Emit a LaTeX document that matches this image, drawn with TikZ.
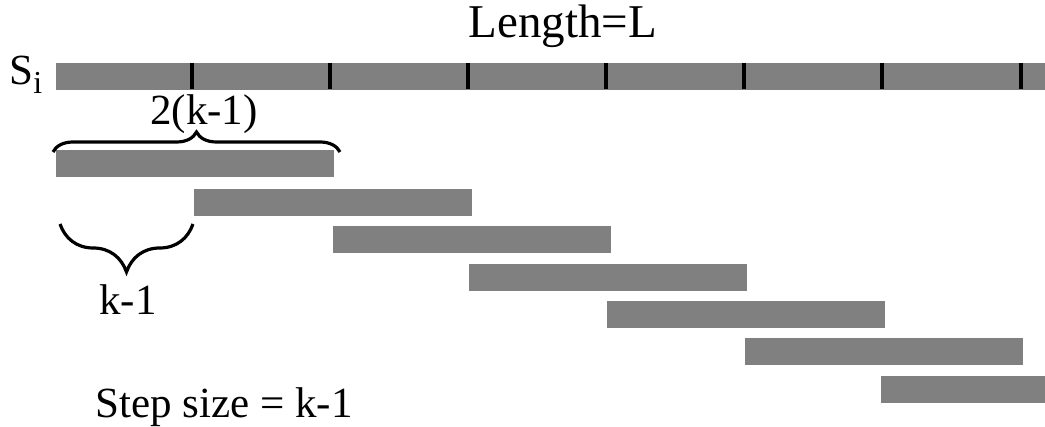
\documentclass[tikz,border=0pt]{standalone}
\usepackage{fontspec}
\setmainfont{Liberation Serif}
\usetikzlibrary{decorations.pathreplacing}
\definecolor{bargray}{RGB}{128,128,128}
\tikzset{
  barbox/.style={fill=bargray, draw=none},
  tickline/.style={line width=1.6pt, black},
  bracepath/.style={decorate, line width=1.6pt, black},
  lbl/.style={inner sep=0pt, anchor=base, font=\fontsize{21.5}{24}\selectfont}
}
\begin{document}
\begin{tikzpicture}[x=0.5pt, y=-0.5pt]
\useasboundingbox (0,0) rectangle (1045,427);
% top sequence bar
\fill[barbox] (56,63) rectangle (1045,90);
\foreach \t in {192,330,468,606,744,882,1021}
  \draw[tickline] (\t,63) -- (\t,89);
% text
\node[lbl, font=\fontsize{23.5}{26}\selectfont] (len) at (563,38) {Length=L};
\node[lbl, anchor=base west] (si) at (9,85) {S\raisebox{-0.45ex}{\fontsize{16}{18}\selectfont i}};
% window bars
\foreach \x/\y [count=\i] in {56/150,194/189,333/226,469/264,607/301,745/338,881/376}
  \fill[barbox] (\x,\y) rectangle ({min(\x+278,1045)},\y+27);
% braces
\coordinate (b1s) at (53,152);
\coordinate (b1e) at (340,152);
\draw[bracepath, decoration={brace, amplitude=10pt}] (b1s) -- (b1e);
\node[lbl] (two) at (204,125) {2(k-1)};
\coordinate (b2s) at (193,224);
\coordinate (b2e) at (60,224);
\draw[bracepath, decoration={brace, amplitude=24pt}] (b2s) -- (b2e);
\node[lbl] (km1) at (128,315) {k-1};
\node[lbl, anchor=base west] (step) at (95,417) {Step size = k-1};
\end{tikzpicture}
\end{document}
